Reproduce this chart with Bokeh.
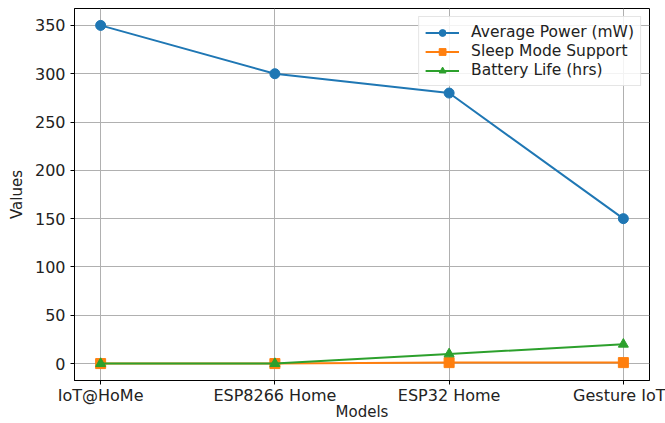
from bokeh.plotting import figure
from bokeh.models import Range1d, FixedTicker, Legend
from bokeh.embed import file_html
from bokeh.resources import INLINE

models = ["IoT@HoMe", "ESP8266 Home", "ESP32 Home", "Gesture IoT"]
avg_power = [350, 300, 280, 150]
sleep_mode = [0, 0, 1, 1]
battery_life = [0, 0, 10, 20]
y_ticks = [0, 50, 100, 150, 200, 250, 300, 350]

xs = list(range(len(models)))
FONT = "DejaVu Sans"

p = figure(width=665, height=423, output_backend="svg", toolbar_location=None,
           x_range=Range1d(-0.15, 3.15), y_range=Range1d(-17.5, 367.5),
           min_border_left=74, min_border_right=16, min_border_top=8, min_border_bottom=43)
p.background_fill_color = "white"
p.border_fill_color = "white"
p.outline_line_color = "black"
p.outline_line_width = 1

for ax in (p.xaxis[0], p.yaxis[0]):
    ax.axis_line_color = "black"
    ax.major_tick_line_color = "black"
    ax.major_tick_out = 4
    ax.major_tick_in = 0
    ax.minor_tick_line_color = None
    ax.major_label_text_font = FONT
    ax.major_label_text_font_size = "16px"
    ax.major_label_text_color = "#222222"
    ax.axis_label_text_font = FONT
    ax.axis_label_text_font_size = "15px"
    ax.axis_label_text_font_style = "normal"
    ax.axis_label_text_color = "#222222"

p.xaxis.ticker = FixedTicker(ticks=xs)
p.xaxis.major_label_overrides = {i: m for i, m in enumerate(models)}
p.yaxis.ticker = FixedTicker(ticks=y_ticks)
p.xaxis.axis_label = "Models"
p.yaxis.axis_label = "Values"
p.xaxis.axis_label_standoff = -5
p.yaxis.axis_label_standoff = 6
p.xaxis.major_label_standoff = 1
p.yaxis.major_label_standoff = 5

p.xgrid.ticker = FixedTicker(ticks=xs)
p.ygrid.ticker = FixedTicker(ticks=y_ticks)
p.grid.grid_line_color = "#b0b0b0"
p.grid.grid_line_width = 1

series = [
    ("Average Power (mW)", avg_power, "#1f77b4", "circle"),
    ("Sleep Mode Support", sleep_mode, "#ff7f0e", "square"),
    ("Battery Life (hrs)", battery_life, "#2ca02c", "triangle"),
]
items = []
for label, ys, color, marker in series:
    r1 = p.line(xs, ys, line_color=color, line_width=2)
    r2 = p.scatter(xs, ys, marker=marker, size=10, fill_color=color, line_color=color)
    items.append((label, [r1, r2]))

legend = Legend(items=items, location="top_right")
legend.label_text_font = FONT
legend.label_text_font_size = "15.5px"
legend.label_text_color = "#222222"
legend.glyph_width = 34
legend.glyph_height = 17
legend.label_height = 17
legend.spacing = 1
legend.padding = 6
legend.margin = 8
legend.label_standoff = 12
legend.border_line_color = "#cccccc"
legend.border_line_width = 1
legend.background_fill_alpha = 0.85
p.add_layout(legend)

open("out.html", "w").write(file_html(p, INLINE))
